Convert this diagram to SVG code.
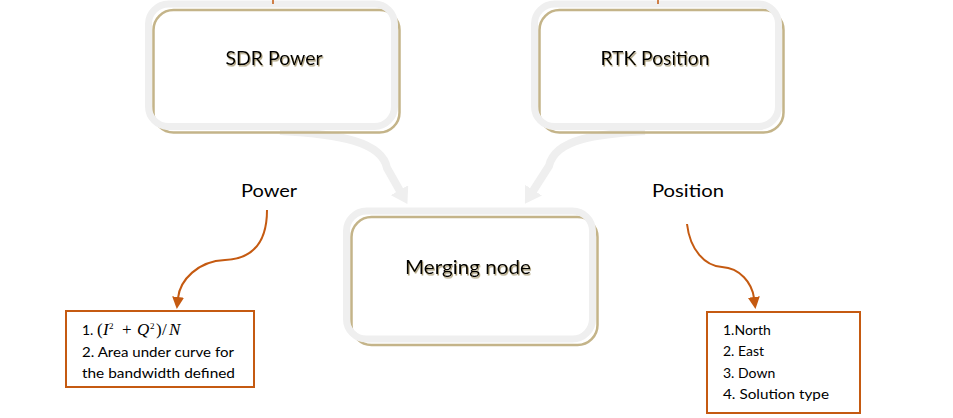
<svg xmlns="http://www.w3.org/2000/svg" width="953" height="418" viewBox="0 0 953 418">
<defs>
<style>
.gray{fill:none;stroke:#efefef;stroke-width:7}
.tan{fill:none;stroke:#c4b489;stroke-width:2.5}
.fillw{fill:#ffffff;stroke:none}
.lbl{font-family:Lato,"Liberation Sans",sans-serif;fill:#000;filter:url(#ts)}
.plain{font-family:Lato,"Liberation Sans",sans-serif;fill:#000}
.m{font-family:"Liberation Serif",serif;fill:#000;font-size:17px}
.mi{font-family:"Liberation Serif",serif;fill:#000;font-size:17px;font-style:italic}
.ms{font-family:"Liberation Serif",serif;fill:#000;font-size:9px}
.ob{fill:#fff;stroke:#c55a11;stroke-width:2}
.oc{fill:none;stroke:#c55a11;stroke-width:2;marker-end:url(#oa)}
.gc{fill:none;stroke:#efefef;stroke-width:8;marker-end:url(#ga)}
</style>
<filter id="ts" x="-10%" y="-30%" width="130%" height="170%">
<feDropShadow dx="1" dy="1.5" stdDeviation="0.7" flood-color="#8c7a4a" flood-opacity="0.7"/>
</filter>
<marker id="oa" viewBox="0 0 12 12" refX="1" refY="6" markerWidth="12" markerHeight="12" markerUnits="userSpaceOnUse" orient="auto">
<path d="M0,0 L12,6 L0,12 z" fill="#c55a11"/>
</marker>
<marker id="ga" viewBox="0 0 16 20" refX="1" refY="10" markerWidth="16" markerHeight="20" markerUnits="userSpaceOnUse" orient="auto">
<path d="M0,0 L16,10 L0,20 z" fill="#efefef"/>
</marker>
</defs>
<rect width="953" height="418" fill="#ffffff"/>
<g id="connectors">
<path class="gc" d="M280,131 C340,134 382,142 387,168 L400,191"/>
<path class="gc" d="M645,131 C600,134 555,138 549,166 L533,191"/>
<path class="oc" d="M267,210 C267,245 250,259 225,260 C198,261 180,280 178,298"/>
<path class="oc" d="M687,224 C690,250 705,266 722,267 C740,268 752,283 754,298"/>
</g>
<g id="sdr-power">
<rect class="fillw" x="148.5" y="4" width="246" height="122.5" rx="20"/>
<rect class="tan" x="153.5" y="10" width="246" height="122.5" rx="20"/>
<rect class="gray" x="148.5" y="4" width="246" height="122.5" rx="20"/>
<text class="lbl" x="274" y="65" font-size="20" text-anchor="middle" textLength="97" lengthAdjust="spacingAndGlyphs">SDR Power</text>
</g>
<g id="rtk-position">
<rect class="fillw" x="534.5" y="4" width="244" height="122.5" rx="20"/>
<rect class="tan" x="539.5" y="10" width="244" height="122.5" rx="20"/>
<rect class="gray" x="534.5" y="4" width="244" height="122.5" rx="20"/>
<text class="lbl" x="655" y="65" font-size="20" text-anchor="middle" textLength="109" lengthAdjust="spacingAndGlyphs">RTK Position</text>
</g>
<g id="merging-node">
<rect class="fillw" x="346.5" y="211" width="246" height="128" rx="20"/>
<rect class="tan" x="351.5" y="217" width="246" height="128" rx="20"/>
<rect class="gray" x="346.5" y="211" width="246" height="128" rx="20"/>
<text class="lbl" x="468" y="274" font-size="20" text-anchor="middle" textLength="126" lengthAdjust="spacingAndGlyphs">Merging node</text>
</g>
<g id="power-label">
<text class="plain" x="241" y="197" font-size="18" textLength="56" lengthAdjust="spacingAndGlyphs">Power</text>
</g>
<g id="position-label">
<text class="plain" x="652" y="197" font-size="18" textLength="72" lengthAdjust="spacingAndGlyphs">Position</text>
</g>
<g id="top-ticks">
<line x1="273" y1="0" x2="273" y2="4" stroke="#c55a11" stroke-width="1.5"/>
<line x1="658" y1="0" x2="658" y2="4" stroke="#c55a11" stroke-width="1.5"/>
</g>
<g id="power-box">
<rect class="ob" x="66" y="311" width="188" height="76"/>
<text class="plain" x="82" y="335" font-size="14">1.</text>
<text class="m" x="97" y="335">(</text>
<text class="mi" x="103" y="335">I</text>
<text class="ms" x="109" y="329">2</text>
<text class="m" x="122" y="335">+</text>
<text class="mi" x="137" y="335">Q</text>
<text class="ms" x="150" y="329">2</text>
<text class="m" x="156" y="335">)</text>
<text class="m" x="162" y="335">/</text>
<text class="mi" x="169" y="335">N</text>
<text class="plain" x="82" y="357" font-size="14" textLength="152" lengthAdjust="spacingAndGlyphs">2. Area under curve for</text>
<text class="plain" x="82" y="378" font-size="14" textLength="153" lengthAdjust="spacingAndGlyphs">the bandwidth defined</text>
</g>
<g id="position-box">
<rect class="ob" x="707" y="312" width="153" height="101"/>
<text class="plain" x="723" y="335" font-size="14">1.North</text>
<text class="plain" x="723" y="356" font-size="14">2. East</text>
<text class="plain" x="723" y="378" font-size="14">3. Down</text>
<text class="plain" x="723" y="399" font-size="14" textLength="106" lengthAdjust="spacingAndGlyphs">4. Solution type</text>
</g>
</svg>
